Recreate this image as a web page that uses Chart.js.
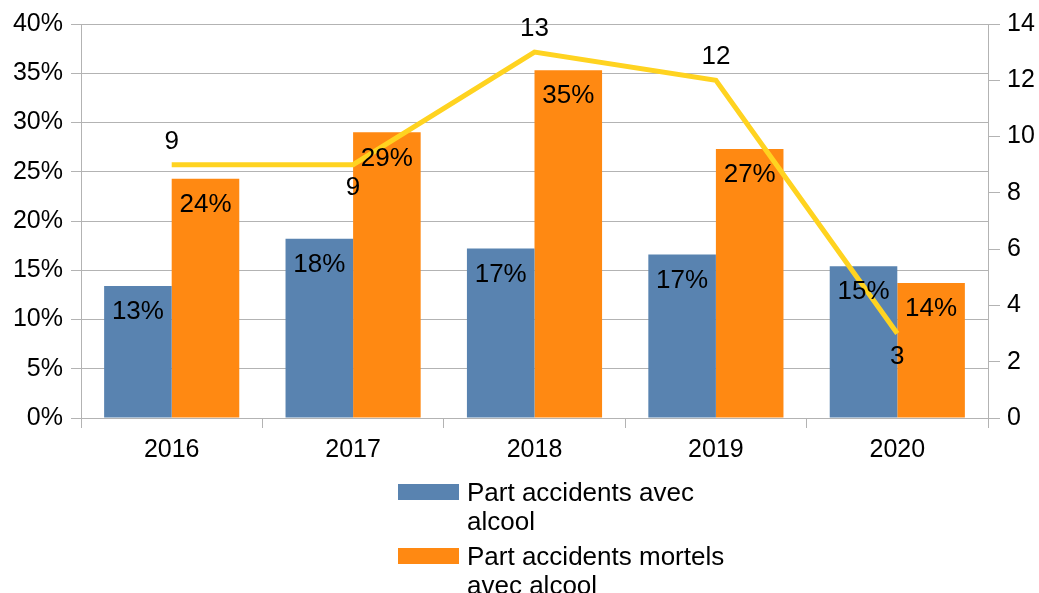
<!DOCTYPE html>
<html>
<head>
<meta charset="utf-8">
<script src="https://cdn.jsdelivr.net/npm/chart.js@4/dist/chart.umd.min.js"></script>
<style>
  body { margin: 0; background: #fff; font-family: "Liberation Sans", Arial, sans-serif; }
  #wrap { position: relative; width: 1039px; height: 593px; overflow: hidden; }
  #legend { position: absolute; left: 398px; top: 478px; font-size: 26px; line-height: 29px; color: #000; }
  .item { display: flex; align-items: flex-start; margin-bottom: 6px; }
  .box { width: 61px; height: 16px; margin-top: 6px; margin-right: 8px; flex: none; }
  .txt { width: 275px; }
</style>
</head>
<body>
<div id="wrap">
  <canvas id="chart"></canvas>
  <div id="legend"></div>
</div>
<script>
// Values
const years = ['2016', '2017', '2018', '2019', '2020'];
const partAccidents = [13.4, 18.2, 17.2, 16.6, 15.4];   // % accidents avec alcool
const partMortels = [24.3, 29.0, 35.3, 27.3, 13.7];     // % accidents mortels avec alcool
const morts = [9, 9, 13, 12, 3];                        // right axis

const FONT = '"Liberation Sans", Arial, sans-serif';
const GRID = '#b3b3b3';

// Draws the value labels (no datalabels plugin available offline)
const valueLabels = {
    id: 'valueLabels',
    afterDatasetsDraw(chart) {
        const ctx = chart.ctx;
        ctx.save();
        ctx.font = '26px ' + FONT;
        ctx.fillStyle = '#000';
        ctx.textAlign = 'center';
        ctx.textBaseline = 'middle';
        chart.data.datasets.forEach((ds, i) => {
            const meta = chart.getDatasetMeta(i);
            meta.data.forEach((el, j) => {
                const v = ds.data[j];
                if (ds.type === 'line') {
                    const below = ds.labelSide[j] === 'bottom';
                    ctx.fillText(String(v), el.x, el.y + (below ? 23 : -23));
                } else {
                    ctx.fillText(Math.round(v) + '%', el.x, el.y + 26);
                }
            });
        });
        ctx.restore();
    }
};

const chart = new Chart(document.getElementById('chart'), {
    data: {
        labels: years,
        datasets: [
            {
                type: 'bar',
                label: 'Part accidents avec alcool',
                data: partAccidents,
                backgroundColor: '#5983b0',
                yAxisID: 'y',
                order: 1,
                categoryPercentage: 0.745,
                barPercentage: 1.0
            },
            {
                type: 'bar',
                label: 'Part accidents mortels avec alcool',
                data: partMortels,
                backgroundColor: '#ff8912',
                yAxisID: 'y',
                order: 1,
                categoryPercentage: 0.745,
                barPercentage: 1.0
            },
            {
                type: 'line',
                label: 'Morts',
                data: morts,
                borderColor: '#ffd320',
                borderWidth: 5,
                pointRadius: 0,
                tension: 0,
                yAxisID: 'y1',
                order: 0,
                labelSide: ['top', 'bottom', 'top', 'top', 'bottom']
            }
        ]
    },
    options: {
        responsive: true,
        maintainAspectRatio: false,
        animation: false,
        layout: { padding: { top: 24, left: 0, right: 0, bottom: 0 } },
        plugins: {
            legend: { display: false },
            tooltip: { enabled: false }
        },
        scales: {
            x: {
                offset: true,
                grid: { offset: true, drawOnChartArea: false, tickLength: 10, color: GRID },
                border: { color: GRID },
                ticks: { color: '#000', font: { size: 25, family: FONT }, padding: 7, maxRotation: 0 },
                afterFit: s => { s.height = 175; }
            },
            y: {
                position: 'left',
                min: 0,
                max: 40,
                ticks: { stepSize: 5, color: '#000', font: { size: 25, family: FONT }, padding: 8,
                         callback: v => v + '%' },
                grid: { color: GRID, tickLength: 10 },
                border: { color: GRID },
                afterFit: s => { s.width = 81; }
            },
            y1: {
                position: 'right',
                min: 0,
                max: 14,
                ticks: { stepSize: 2, color: '#000', font: { size: 25, family: FONT }, padding: 7 },
                grid: { drawOnChartArea: false, color: GRID, tickLength: 12 },
                border: { color: GRID },
                afterFit: s => { s.width = 51; }
            }
        }
    },
    plugins: [valueLabels]
});

// HTML legend for the two bar series, with wrapped text
const legend = document.getElementById('legend');
chart.data.datasets.filter(d => d.type === 'bar').forEach(d => {
    const item = document.createElement('div');
    item.className = 'item';
    item.innerHTML = '<span class="box" style="background:' + d.backgroundColor + '"></span>' +
                     '<span class="txt">' + d.label + '</span>';
    legend.appendChild(item);
});
</script>
</body>
</html>
